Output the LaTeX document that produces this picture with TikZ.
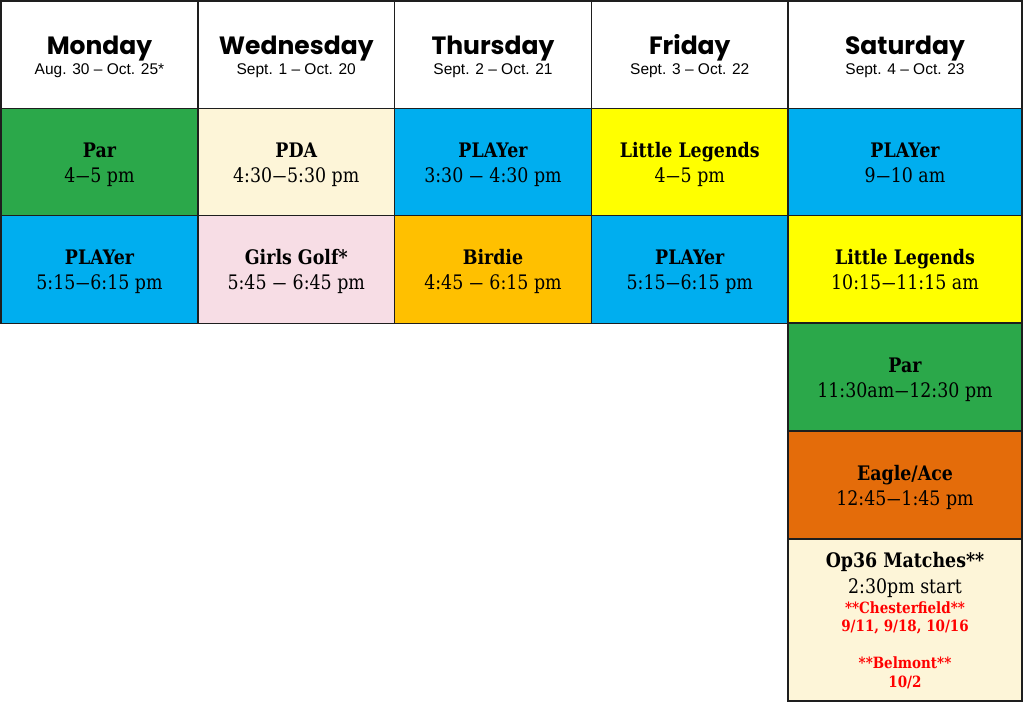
\documentclass[tikz,border=0pt]{standalone}
\usepackage{fontspec}
\setmainfont{DejaVu Serif}[FakeStretch=0.87]
\newfontfamily\dayfont{Poppins}
\newfontfamily\datefont{Liberation Sans}
\definecolor{parGreen}{HTML}{2BA84A}
\definecolor{playBlue}{HTML}{00AEEF}
\definecolor{legYellow}{HTML}{FFFF00}
\definecolor{pdaCream}{HTML}{FDF5D8}
\definecolor{golfPink}{HTML}{F7DDE5}
\definecolor{birdieGold}{HTML}{FFC000}
\definecolor{eagleOrange}{HTML}{E46C0A}
\definecolor{gridLine}{HTML}{1E1E1E}
\newcommand\tdash{{\addfontfeature{FakeStretch=1.5}–}}
\tikzset{
  slot/.style={draw=gridLine,line width=1.5pt,inner sep=0pt},
  titletext/.style={anchor=base,inner sep=0pt,font=\bfseries\fontsize{20}{24}\selectfont},
  timetext/.style={anchor=base,inner sep=0pt,font=\fontsize{20}{24}\selectfont},
  daytext/.style={anchor=base,inner sep=0pt,font=\dayfont\bfseries\fontsize{25}{30}\selectfont},
  datetext/.style={anchor=base,inner sep=0pt,font=\datefont\fontsize{15.5}{18}\selectfont},
  redtext/.style={anchor=base,inner sep=0pt,text=red,font=\bfseries\fontsize{15.5}{18}\selectfont}
}
% name, x, width, day, dates
\newcommand\dayhead[5]{
  \node[slot,fill=white,minimum width=#3,minimum height=108pt] (#1) at (#2,55) {};
  \node[daytext] (#1Day) at (#1.center) {#4};
  \node[datetext] (#1Dates) at ([yshift=-20pt]#1.center) {#5};
}
% name, x, y, width, height, fill, title, time
\newcommand\schedcell[8]{
  \node[slot,fill=#6,minimum width=#4,minimum height=#5] (#1) at (#2,#3) {};
  \node[titletext] (#1Title) at ([yshift=5pt]#1.center) {#7};
  \node[timetext] (#1Time) at ([yshift=-20pt]#1.center) {#8};
}
\begin{document}
\begin{tikzpicture}[x=1pt,y=-1pt]
  \useasboundingbox (0,0) rectangle (1024,703);
  \fill[white] (0,0) rectangle (1024,703);
  \def\colw{196.75pt}
  \def\satw{234pt}
  \def\rowh{107.5pt}
  \dayhead{mon}{99.5}{\colw}{Monday}{Aug. 30 – Oct. 25*}
  \dayhead{wed}{296.25}{\colw}{Wednesday}{Sept. 1 – Oct. 20}
  \dayhead{thu}{493}{\colw}{Thursday}{Sept. 2 – Oct. 21}
  \dayhead{fri}{689.75}{\colw}{Friday}{Sept. 3 – Oct. 22}
  \dayhead{sat}{905}{\satw}{Saturday}{Sept. 4 – Oct. 23}
  \schedcell{monPar}{99.5}{162.5}{\colw}{\rowh}{parGreen}{Par}{4\tdash5 pm}
  \schedcell{wedPDA}{296.25}{162.5}{\colw}{\rowh}{pdaCream}{PDA}{4:30\tdash5:30 pm}
  \schedcell{thuPlayer}{493}{162.5}{\colw}{\rowh}{playBlue}{PLAYer}{3:30 \tdash{} 4:30 pm}
  \schedcell{friLegends}{689.75}{162.5}{\colw}{\rowh}{legYellow}{Little Legends}{4\tdash5 pm}
  \schedcell{satPlayer}{905}{162.5}{\satw}{\rowh}{playBlue}{PLAYer}{9\tdash10 am}
  \schedcell{monPlayer}{99.5}{269.5}{\colw}{\rowh}{playBlue}{PLAYer}{5:15\tdash6:15 pm}
  \schedcell{wedGirls}{296.25}{269.5}{\colw}{\rowh}{golfPink}{Girls Golf*}{5:45 \tdash{} 6:45 pm}
  \schedcell{thuBirdie}{493}{269.5}{\colw}{\rowh}{birdieGold}{Birdie}{4:45 \tdash{} 6:15 pm}
  \schedcell{friPlayer}{689.75}{269.5}{\colw}{\rowh}{playBlue}{PLAYer}{5:15\tdash6:15 pm}
  \schedcell{satLegends}{905}{269.5}{\satw}{\rowh}{legYellow}{Little Legends}{10:15\tdash11:15 am}
  \schedcell{satPar}{905}{377}{\satw}{108pt}{parGreen}{Par}{11:30am\tdash12:30 pm}
  \schedcell{satEagle}{905}{485}{\satw}{108pt}{eagleOrange}{Eagle/Ace}{12:45\tdash1:45 pm}
  \node[slot,fill=pdaCream,minimum width=\satw,minimum height=162pt] (satMatches) at (905,620) {};
  \node[titletext] (satMatchesTitle) at ([yshift=53pt]satMatches.center) {Op36 Matches**};
  \node[timetext] (satMatchesTime) at ([yshift=27pt]satMatches.center) {2:30pm start};
  \node[redtext] (chesterfield) at ([yshift=7pt]satMatches.center) {**Chesterfield**};
  \node[redtext] (chesterfieldDates) at ([yshift=-11pt]satMatches.center) {9/11, 9/18, 10/16};
  \node[redtext] (belmont) at ([yshift=-48pt]satMatches.center) {**Belmont**};
  \node[redtext] (belmontDates) at ([yshift=-67pt]satMatches.center) {10/2};
\end{tikzpicture}
\end{document}
